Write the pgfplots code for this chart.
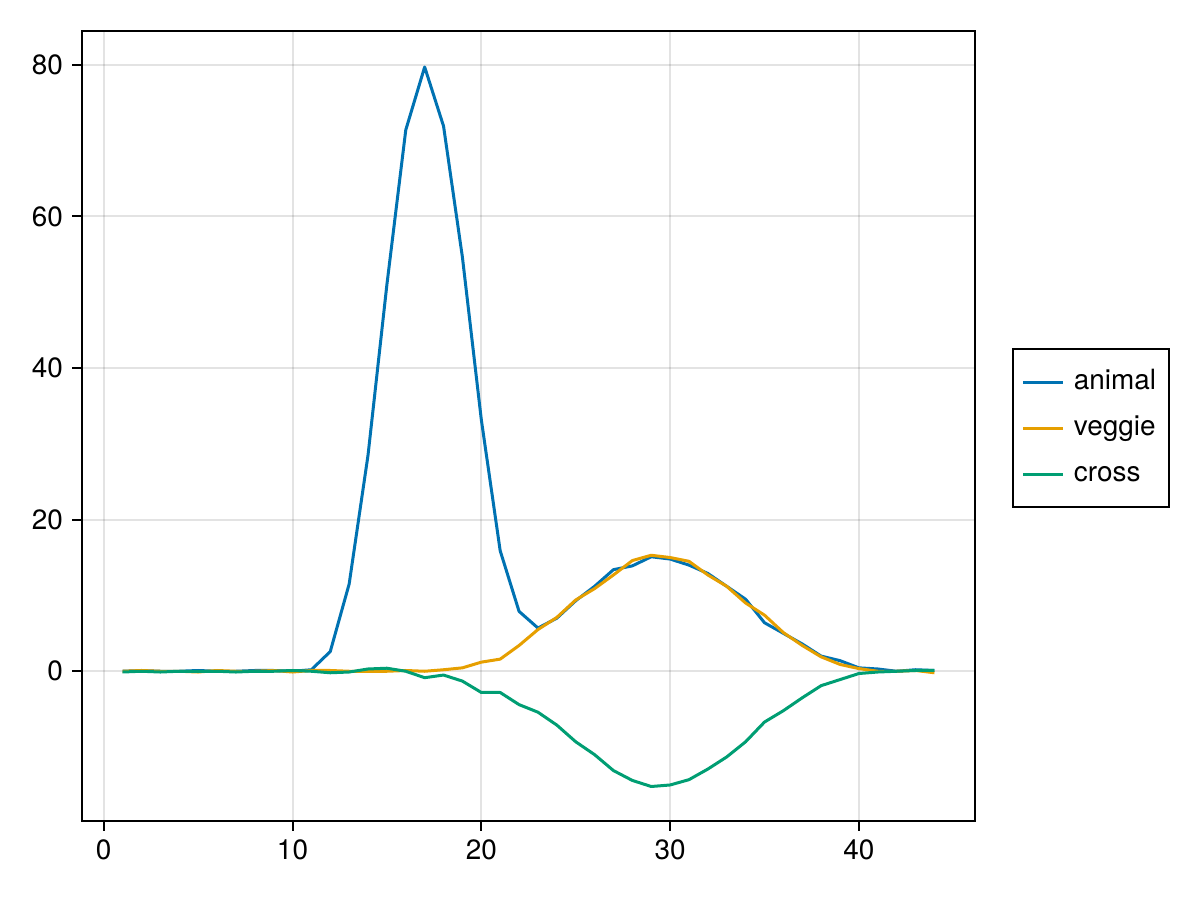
\documentclass[border=0pt]{standalone}
\usepackage{pgfplots}
\pgfplotsset{compat=1.18}
\usepackage{fontspec}
\setmainfont{TeX Gyre Heros}
\definecolor{cblue}{HTML}{0072B2}
\definecolor{corange}{HTML}{E69F00}
\definecolor{cgreen}{HTML}{009E73}
\begin{document}
\begin{tikzpicture}
\path[use as bounding box] (0,0) rectangle (600bp,450bp);
\begin{axis}[
  at={(41bp,39.5bp)}, anchor=south west,
  scale only axis, width=446.5bp, height=395bp,
  xmin=-1.15, xmax=46.15, ymin=-19.75, ymax=84.45,
  xtick={0,10,20,30,40}, ytick={0,20,40,60,80},
  xtick pos=bottom, ytick pos=left,
  tick align=outside, major tick length=5bp,
  tick style={black, line width=1bp},
  axis line style={line width=1bp},
  grid=major, major grid style={black, opacity=0.11, line width=1bp},
  font=\fontsize{14}{17}\selectfont,
  /pgf/number format/assume math mode=true,
  ticklabel style={font=\fontsize{14}{17}\selectfont},
  xticklabel style={yshift=-1bp},
  yticklabel style={xshift=-1bp},
  legend cell align=left,
  legend style={at={(1.0414,0.5987)}, anchor=north west, draw=black, line width=1bp,
    inner xsep=4.5bp, inner ysep=8bp, row sep=6bp, column sep=2.5bp,
    nodes={inner sep=2bp, text height=10bp, text depth=3bp, font=\fontsize{14}{17}\selectfont}},
  legend image code/.code={\draw[#1] (0bp,0bp) -- (20bp,0bp);},
  every axis plot/.append style={line width=1.5bp, line join=round},
]
\addplot[cblue] coordinates {
(1,0.0)(2,0.1)(3,0.0)(4,0.0)(5,0.1)(6,0.0)(7,0.0)(8,0.1)(9,0.1)(10,0.0)
(11,0.2)(12,2.6)(13,11.5)(14,28.5)(15,51.0)(16,71.4)(17,79.7)(18,71.9)(19,54.6)(20,33.2)
(21,15.9)(22,7.9)(23,5.7)(24,7.0)(25,9.3)(26,11.2)(27,13.4)(28,13.9)(29,15.1)(30,14.8)
(31,14.0)(32,12.9)(33,11.2)(34,9.5)(35,6.4)(36,5.0)(37,3.6)(38,2.0)(39,1.4)(40,0.45)
(41,0.3)(42,0.0)(43,0.2)(44,0.1)};
\addlegendentry{animal}
\addplot[corange] coordinates {
(1,0.0)(2,0.1)(3,0.0)(4,0.0)(5,-0.1)(6,0.1)(7,0.0)(8,0.0)(9,0.1)(10,-0.1)
(11,0.1)(12,0.1)(13,0.0)(14,0.0)(15,0.0)(16,0.1)(17,0.0)(18,0.2)(19,0.45)(20,1.2)
(21,1.6)(22,3.4)(23,5.5)(24,7.1)(25,9.4)(26,10.9)(27,12.7)(28,14.6)(29,15.3)(30,15.0)
(31,14.5)(32,12.7)(33,11.2)(34,9.0)(35,7.4)(36,5.1)(37,3.4)(38,1.9)(39,0.9)(40,0.35)
(41,0.0)(42,0.0)(43,0.1)(44,-0.2)};
\addlegendentry{veggie}
\addplot[cgreen] coordinates {
(1,-0.1)(2,0.0)(3,-0.1)(4,0.0)(5,0.0)(6,0.0)(7,-0.1)(8,0.0)(9,0.0)(10,0.1)
(11,0.0)(12,-0.2)(13,-0.1)(14,0.3)(15,0.4)(16,0.0)(17,-0.85)(18,-0.5)(19,-1.3)(20,-2.8)
(21,-2.8)(22,-4.4)(23,-5.4)(24,-7.1)(25,-9.3)(26,-11.0)(27,-13.1)(28,-14.4)(29,-15.2)(30,-15.0)
(31,-14.3)(32,-12.9)(33,-11.3)(34,-9.3)(35,-6.7)(36,-5.2)(37,-3.5)(38,-1.9)(39,-1.1)(40,-0.3)
(41,-0.1)(42,0.0)(43,0.1)(44,0.1)};
\addlegendentry{cross}
\end{axis}
\end{tikzpicture}
\end{document}
